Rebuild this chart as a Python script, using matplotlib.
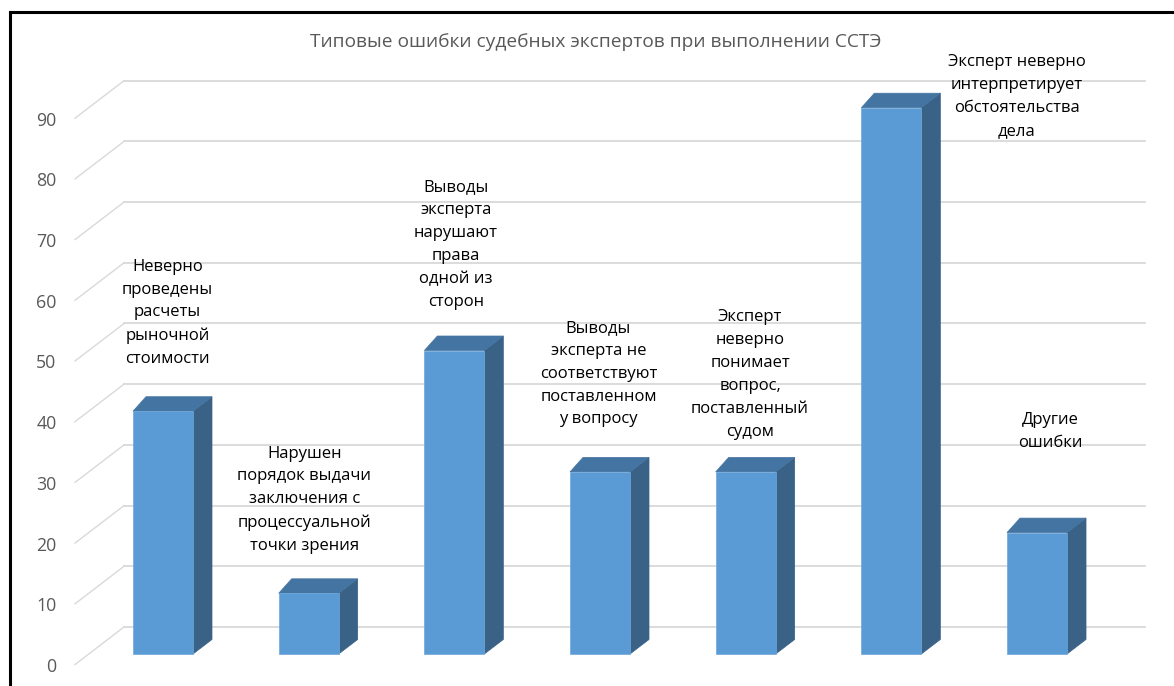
import matplotlib
matplotlib.use("Agg")
import matplotlib.pyplot as plt
from matplotlib.patches import Polygon
from matplotlib.lines import Line2D
from matplotlib.transforms import ScaledTranslation

# ---------------- data ----------------
categories = [
    "Неверно\nпроведены\nрасчеты\nрыночной\nстоимости",
    "Нарушен\nпорядок выдачи\nзаключения с\nпроцессуальной\nточки зрения",
    "Выводы\nэксперта\nнарушают\nправа\nодной из\nсторон",
    "Выводы\nэксперта не\nсоответствуют\nпоставленном\nу вопросу",
    "Эксперт\nневерно\nпонимает\nвопрос,\nпоставленный\nсудом",
    "Эксперт неверно\nинтерпретирует\nобстоятельства\nдела",
    "Другие\nошибки",
]
values = [40, 10, 50, 30, 30, 90, 20]
yticks = [0, 10, 20, 30, 40, 50, 60, 70, 80, 90]
title = "Типовые ошибки судебных экспертов при выполнении ССТЭ"

# ---------------- layout (pixels / data units) ----------------
W, H, DPI = 1174, 686, 100
PX_X0, PX_DX = 163.0, 145.67     # pixel x of category 0, pixels per category
PX_Y0, PX_DY = 654.0, 6.07       # pixel y (from top) of value 0, pixels per unit
AX_LEFT_PX = 62

# label offsets (layout): dx in category units, dy in value units (center of block)
lab_dx = [0.03, -0.03, 0.01, -0.01, 0.03, 0.86, 0.09]
lab_dy = [16.2, 15.4, 17.4, 16.2, 16.1, 1.8, 16.6]

bar_w = 60 / PX_DX
depth_dy = 14.5 / PX_DY
depth_dx_l = 13 / PX_DX
depth_dx_r = 19 / PX_DX
wall_dy = 27 / PX_DY
floor_dy = -10.5 / PX_DY
wall_x0 = (124 - PX_X0) / PX_DX
wall_x1 = (1145 - PX_X0) / PX_DX
diag_x0 = (75 - PX_X0) / PX_DX

c_front = "#5B9BD5"
c_side = "#3A6287"
c_top = "#4474A1"
c_grid = "#D9D9D9"
c_text = "#595959"

fig = plt.figure(figsize=(W / DPI, H / DPI), dpi=DPI)
ax = fig.add_axes([AX_LEFT_PX / W, 0, (W - AX_LEFT_PX) / W, 1])
ax.set_xlim((AX_LEFT_PX - PX_X0) / PX_DX, (W - PX_X0) / PX_DX)
ax.set_ylim(-(H - PX_Y0) / PX_DY, PX_Y0 / PX_DY)
for s in ax.spines.values():
    s.set_visible(False)
ax.set_xticks([])
ax.set_yticks(yticks)
ax.tick_params(axis="y", length=0, pad=4, labelsize=12.8, labelcolor=c_text)
for lbl in ax.get_yticklabels():
    lbl.set_fontfamily("Open Sans")
    lbl.set_transform(lbl.get_transform() + ScaledTranslation(0, -11 / DPI, fig.dpi_scale_trans))

# back wall gridlines + floor diagonals
for t in yticks:
    ax.plot([wall_x0, wall_x1], [t + wall_dy, t + wall_dy], color=c_grid, lw=1.3, zorder=1)
    ax.plot([diag_x0, wall_x0], [t + floor_dy, t + wall_dy], color=c_grid, lw=1.0, zorder=1)

# bars (pseudo-3D)
xs = list(range(len(values)))
ax.bar(xs, values, width=bar_w, color=c_front, edgecolor="#6FA8DC", lw=0.5, zorder=3)
for x, v in zip(xs, values):
    xl, xr = x - bar_w / 2, x + bar_w / 2
    side = Polygon([(xr, 0), (xr + depth_dx_r, depth_dy), (xr + depth_dx_r, v + depth_dy), (xr, v)],
                   closed=True, facecolor=c_side, edgecolor=c_side, lw=0.5, zorder=2.5)
    top = Polygon([(xl, v), (xr, v), (xr + depth_dx_r, v + depth_dy), (xl + depth_dx_l, v + depth_dy)],
                  closed=True, facecolor=c_top, edgecolor=c_top, lw=0.5, zorder=2.6)
    ax.add_patch(side)
    ax.add_patch(top)

# data labels
for x, v, lab, dx, dy in zip(xs, values, categories, lab_dx, lab_dy):
    ax.text(x + dx, v + dy, lab, ha="center", va="center", fontsize=12,
            family="Open Sans", color="black", linespacing=1.58, zorder=5)

# title
fig.text(596 / W, 1 - 42 / H, title, ha="center", va="center", fontsize=13.8,
         family="Open Sans", color=c_text)

# frame lines (left and top)
fig.add_artist(Line2D([10 / W, 10 / W], [0, 1 - 12 / H], color="black", lw=2.2))
fig.add_artist(Line2D([10 / W, 1], [1 - 12 / H, 1 - 12 / H], color="black", lw=2.2))

fig.savefig("out.png", dpi=DPI)
